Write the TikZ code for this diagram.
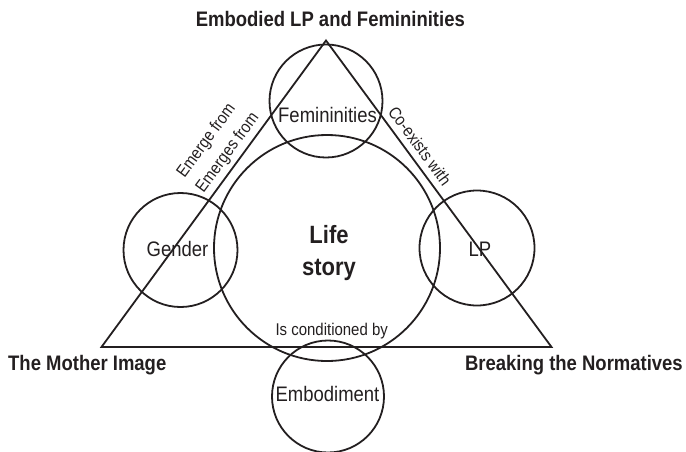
\documentclass[tikz,border=0pt]{standalone}
\usepackage{fontspec}
\newfontfamily\narrowfont[FakeStretch=0.88]{Liberation Sans}
\definecolor{ink}{RGB}{35,31,32}
\begin{document}
\begin{tikzpicture}[x=1pt,y=-1pt,
  ring/.style={draw=ink, line width=1.8pt, circle, inner sep=0pt, minimum size=#1},
  lbl/.style={font=\narrowfont\fontsize{21}{25}\selectfont, text=ink, inner sep=0pt, anchor=base},
  small/.style={font=\narrowfont\fontsize{17}{20}\selectfont, text=ink, inner sep=0pt},
  title/.style={font=\narrowfont\bfseries\fontsize{21}{25}\selectfont, text=ink, inner sep=0pt},
  big/.style={font=\narrowfont\bfseries\fontsize{25}{30}\selectfont, text=ink, inner sep=0pt, anchor=base},
  edge/.style={draw=ink, line width=1.8pt, line join=miter}
  ]
\useasboundingbox (0,0) rectangle (686,451);
% triangle
\coordinate (A) at (326,40.5);
\coordinate (B) at (101.5,347);
\coordinate (C) at (551.5,347);
\draw[edge] (A) -- (B) -- (C) -- cycle;
% circles
\node[ring=226pt] (ls) at (327,248) {};
\node[ring=113pt] (fem) at (326,101) {};
\node[ring=114pt] (gen) at (180.5,250) {};
\node[ring=115pt] (lp) at (477,248) {};
\node[ring=112pt] (emb) at (328,396.5) {};
% circle labels
\node[lbl] (femt) at (327.5,122.7) {Femininities};
\node[lbl] (gent) at (177.5,256.7) {Gender};
\node[lbl] (lpt) at (480,256.7) {LP};
\node[lbl] (embt) at (327.5,401.7) {Embodiment};
\node[big] (lifet) at (329,243.3) {Life};
\node[big] (storyt) at (329,275.5) {story};
% relation labels
\node[small, anchor=base] (cond) at (331.7,335) {Is conditioned by};
\node[small, rotate=53.7] (em1) at (206.7,140.7) {Emerge from};
\node[small, rotate=53.7] (em2) at (228,152.7) {Emerges from};
\node[small, rotate=-53.5] (co) at (420,146) {Co-exists with};
% titles
\node[title, anchor=base] (t1) at (330.3,26) {Embodied LP and Femininities};
\node[title, anchor=base west] (t2) at (8,370.7) {The Mother Image};
\node[title, anchor=base east] (t3) at (683,370.7) {Breaking the Normatives};
\end{tikzpicture}
\end{document}
